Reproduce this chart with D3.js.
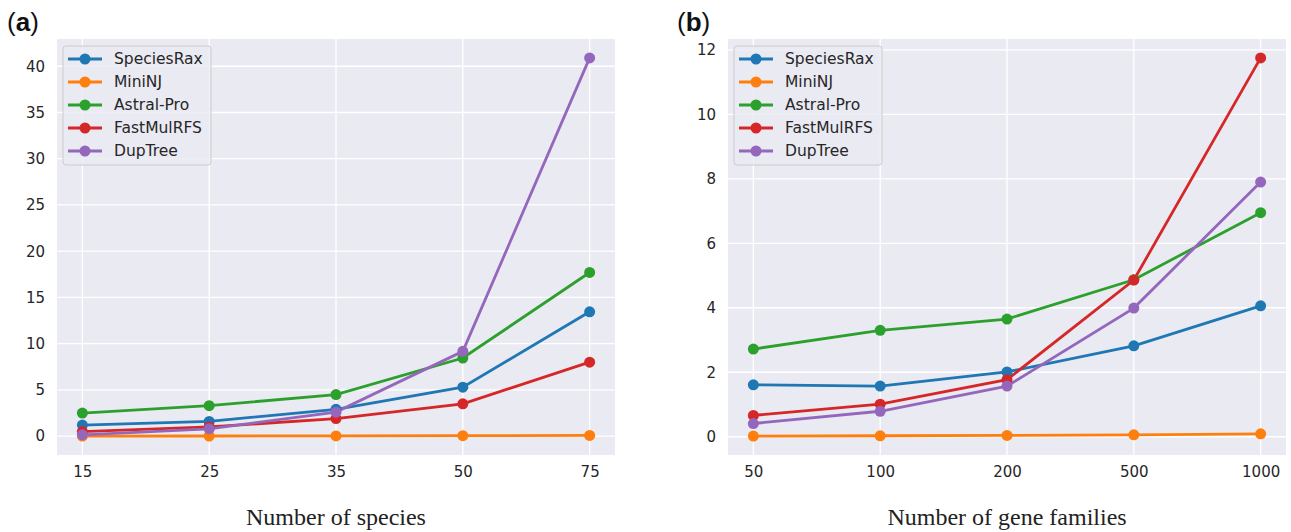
<!DOCTYPE html>
<html>
<head>
<meta charset="utf-8">
<script src="https://cdn.jsdelivr.net/npm/d3@7"></script>
<style>
  body { margin: 0; background: #fff; }
  svg text { font-family: "DejaVu Sans", sans-serif; }
</style>
</head>
<body>
<div class="visualGraph"></div>
<script>
// series names and colours (seaborn / tab10)
const seriesNames = ["SpeciesRax", "MiniNJ", "Astral-Pro", "FastMulRFS", "DupTree"];
const seriesColors = ["#1f77b4", "#ff7f0e", "#2ca02c", "#d62728", "#9467bd"];

// panel (a): number of species
const speciesCats = ["15", "25", "35", "50", "75"];
const speciesTicks = [0, 5, 10, 15, 20, 25, 30, 35, 40];
const speciesRax_a = [1.2, 1.6, 2.9, 5.3, 13.45];
const miniNJ_a = [0.01, 0.02, 0.03, 0.05, 0.08];
const astralPro_a = [2.5, 3.3, 4.5, 8.45, 17.7];
const fastMulRFS_a = [0.5, 1.0, 1.9, 3.5, 8.0];
const dupTree_a = [0.15, 0.8, 2.6, 9.17, 40.9];

// panel (b): number of gene families
const familyCats = ["50", "100", "200", "500", "1000"];
const familyTicks = [0, 2, 4, 6, 8, 10, 12];
const speciesRax_b = [1.61, 1.57, 2.01, 2.82, 4.06];
const miniNJ_b = [0.02, 0.03, 0.04, 0.06, 0.09];
const astralPro_b = [2.72, 3.30, 3.65, 4.87, 6.95];
const fastMulRFS_b = [0.66, 1.01, 1.77, 4.86, 11.75];
const dupTree_b = [0.41, 0.79, 1.57, 3.99, 7.9];

const width = 1291, height = 532;

const svg = d3.select(".visualGraph")
    .append("svg")
    .attr("width", width)
    .attr("height", height)
    .attr("viewBox", [0, 0, width, height]);

function drawPanel(p) {
    const g = svg.append("g");
    const series = [p.s0, p.s1, p.s2, p.s3, p.s4];

    // categorical positions with matplotlib-like 5% margins
    const n = p.cats.length;
    const pad = (n - 1) * 0.05;
    const xIdx = d3.scaleLinear()
        .domain([-pad, n - 1 + pad])
        .range([p.left, p.right]);
    const x = (c) => xIdx(p.cats.indexOf(c));

    const all = series.flat();
    const lo = d3.min(all), hi = d3.max(all);
    const ypad = (hi - lo) * 0.05;
    const y = d3.scaleLinear()
        .domain([lo - ypad, hi + ypad])
        .range([p.bottom, p.top]);

    // background
    g.append("rect")
        .attr("x", p.left).attr("y", p.top)
        .attr("width", p.right - p.left)
        .attr("height", p.bottom - p.top)
        .attr("fill", "#eaeaf2");

    // grid lines
    g.selectAll(".hgrid").data(p.ticks).join("line")
        .attr("x1", p.left).attr("x2", p.right)
        .attr("y1", d => y(d)).attr("y2", d => y(d))
        .attr("stroke", "#fff").attr("stroke-width", 1.3);
    g.selectAll(".vgrid").data(p.cats).join("line")
        .attr("y1", p.top).attr("y2", p.bottom)
        .attr("x1", d => x(d)).attr("x2", d => x(d))
        .attr("stroke", "#fff").attr("stroke-width", 1.3);

    // axes (no spines, no tick marks)
    const yAxis = g.append("g")
        .attr("transform", `translate(${p.left},0)`)
        .call(d3.axisLeft(y).tickValues(p.ticks).tickSize(0).tickPadding(12));
    const xAxis = g.append("g")
        .attr("transform", `translate(0,${p.bottom})`)
        .call(d3.axisBottom(d3.scalePoint().domain(p.cats)
                .range([xIdx(0), xIdx(n - 1)]))
            .tickSize(0).tickPadding(11));
    [xAxis, yAxis].forEach(a => {
        a.select(".domain").remove();
        a.selectAll("text")
            .attr("fill", "#262626")
            .style("font-size", "15px")
            .style("font-family", "'DejaVu Sans', sans-serif");
    });

    // lines + markers
    const line = d3.line()
        .x((d, i) => x(p.cats[i]))
        .y(d => y(d));
    series.forEach((s, k) => {
        g.append("path")
            .attr("d", line(s))
            .attr("fill", "none")
            .attr("stroke", seriesColors[k])
            .attr("stroke-width", 2.8);
    });
    series.forEach((s, k) => {
        g.selectAll(null).data(s).join("circle")
            .attr("cx", (d, i) => x(p.cats[i]))
            .attr("cy", d => y(d))
            .attr("r", 5.5)
            .attr("fill", seriesColors[k]);
    });

    // legend
    const lg = g.append("g")
        .attr("transform", `translate(${p.left + 6},${p.top + 7})`);
    lg.append("rect")
        .attr("width", 148).attr("height", 119)
        .attr("rx", 3)
        .attr("fill", "#eaeaf2").attr("fill-opacity", 0.8)
        .attr("stroke", "#cccccc").attr("stroke-width", 1);
    seriesNames.forEach((name, k) => {
        const yy = 13 + k * 23;
        lg.append("line")
            .attr("x1", 5).attr("x2", 39)
            .attr("y1", yy).attr("y2", yy)
            .attr("stroke", seriesColors[k]).attr("stroke-width", 2.8);
        lg.append("circle")
            .attr("cx", 22).attr("cy", yy).attr("r", 5.5)
            .attr("fill", seriesColors[k]);
        lg.append("text")
            .attr("x", 51).attr("y", yy)
            .attr("dy", "0.35em")
            .attr("fill", "#262626")
            .style("font-size", "15.5px")
            .text(name);
    });

    // panel tag
    svg.append("text")
        .attr("x", p.tagX).attr("y", 31)
        .style("font-family", "'Liberation Sans', Arial, sans-serif")
        .style("font-size", "26px")
        .attr("fill", "#111")
        .html(`(<tspan font-weight="bold">${p.tag}</tspan>)`);

    // x label
    svg.append("text")
        .attr("x", (p.left + p.right) / 2)
        .attr("y", 525)
        .attr("text-anchor", "middle")
        .style("font-family", "'Liberation Serif', 'DejaVu Serif', serif")
        .style("font-size", "24px")
        .attr("fill", "#222")
        .text(p.xlabel);
}

drawPanel({
    tag: "a", tagX: 7, xlabel: "Number of species",
    cats: speciesCats, ticks: speciesTicks,
    s0: speciesRax_a, s1: miniNJ_a, s2: astralPro_a, s3: fastMulRFS_a, s4: dupTree_a,
    left: 57, right: 615, top: 39, bottom: 455
});

drawPanel({
    tag: "b", tagX: 677, xlabel: "Number of gene families",
    cats: familyCats, ticks: familyTicks,
    s0: speciesRax_b, s1: miniNJ_b, s2: astralPro_b, s3: fastMulRFS_b, s4: dupTree_b,
    left: 728, right: 1286, top: 39, bottom: 455
});
</script>
</body>
</html>
